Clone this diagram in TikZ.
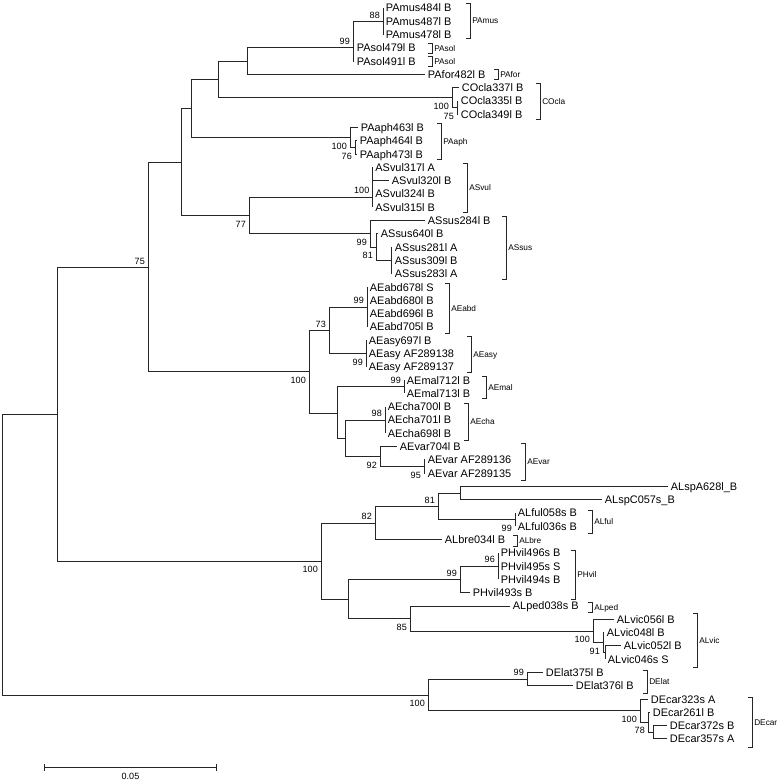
\documentclass[tikz,border=0pt]{standalone}
\usepackage{fontspec}
\setmainfont{Liberation Sans}
\usetikzlibrary{arrows.meta}

\begin{document}
\begin{tikzpicture}[x=0.75pt,y=-0.75pt,
  branch/.style={black!85,line width=0.75pt},
  leaf/.style={anchor=west,inner xsep=2pt,inner ysep=0pt,text height=5.9pt,text depth=0pt,font=\fontsize{8.2}{10}\selectfont},
  bsa/.style={anchor=south east,inner sep=2.2pt,font=\fontsize{6.8}{8}\selectfont},
  bsb/.style={anchor=north east,inner sep=2.2pt,yshift=-1.5pt,font=\fontsize{6.8}{8}\selectfont},
  clade/.style={black!85,line width=0.75pt},
  cladelab/.style={anchor=west,inner sep=1.5pt,text height=4.5pt,text depth=0pt,font=\fontsize{6.2}{7}\selectfont}]
  \useasboundingbox (0,0) rectangle (780,782);
  \foreach \lx/\ltext [count=\i from 0] in {383/PAmus484l B,383/PAmus487l B,383/PAmus478l B,354/PAsol479l B,354/PAsol491l B,
      425/PAfor482l B,459/COcla337l B,458/COcla335l B,458/COcla349l B,358/PAaph463l B,357/PAaph464l B,357/PAaph473l B,
      372.5/ASvul317l A,389/ASvul320l B,372.5/ASvul324l B,372.5/ASvul315l B,425/ASsus284l B,378/ASsus640l B,
      392/ASsus281l A,392/ASsus309l B,392/ASsus283l A,367/AEabd678l S,367/AEabd680l B,367/AEabd696l B,367/AEabd705l B,
      366/AEasy697l B,366/AEasy AF289138,366/AEasy AF289137,404/AEmal712l B,404/AEmal713l B,385/AEcha700l B,
      385/AEcha701l B,385/AEcha698l B,397/AEvar704l B,425/AEvar AF289136,425/AEvar AF289135,668/ALspA628l\_B,
      602/ALspC057s\_B,515/ALful058s B,515/ALful036s B,442/ALbre034l B,498/PHvil496s B,498/PHvil495s S,
      498/PHvil494s B,470/PHvil493s B,510/ALped038s B,614/ALvic056l B,604/ALvic048l B,621/ALvic052l B,
      605/ALvic046s S,543/DElat375l B,573/DElat376l B,648/DEcar323s A,650/DEcar261l B,667/DEcar372s B,667/DEcar357s A}
  {
    \coordinate (e\i) at (\lx,{8+13.29*\i});
    \node[leaf] (t\i) at (e\i) {\ltext};
  }
  \coordinate (nRoot) at (2,554.6);
  \coordinate (nIN) at (57,414.2);
  \coordinate (nPAASAE) at (148,267.3);
  \coordinate (nPAAS) at (181,162.2);
  \coordinate (nPA3) at (191,108.5);
  \coordinate (nPA2) at (218,79.5);
  \coordinate (nPA1) at (247,61.2);
  \coordinate (nPAsol) at (353,47.9);
  \coordinate (nPAmus) at (383,21.3);
  \coordinate (nCOcla) at (452,97.7);
  \coordinate (nCOcla2) at (457,107.7);
  \coordinate (nPAaph) at (350,137.6);
  \coordinate (nPAaph2) at (355,147.6);
  \coordinate (nAS) at (249,215.8);
  \coordinate (nASvul) at (372.5,197);
  \coordinate (nASsus) at (370,233.9);
  \coordinate (nASsus2) at (376,247.2);
  \coordinate (nASsus3) at (391,260.5);
  \coordinate (nAE) at (309,371.7);
  \coordinate (nAEab) at (329,330.3);
  \coordinate (nAEabd) at (367,307.1);
  \coordinate (nAEasy) at (366,353.5);
  \coordinate (nAEmc) at (337,413.2);
  \coordinate (nAEmal) at (404,386.8);
  \coordinate (nAEcv) at (345,438.3);
  \coordinate (nAEcha) at (385,420);
  \coordinate (nAEvar) at (380,456.6);
  \coordinate (nAEvar2) at (424,466.6);
  \coordinate (nALPH) at (321,561);
  \coordinate (nAL82) at (375,523);
  \coordinate (nAL81) at (438,506.4);
  \coordinate (nALsp) at (460,493.1);
  \coordinate (nALful) at (515,519.7);
  \coordinate (nPHAL) at (348,599);
  \coordinate (nPHvil) at (460,579.5);
  \coordinate (nPHvil2) at (498,566.2);
  \coordinate (nALvp) at (410,618.5);
  \coordinate (nALvic) at (593,631);
  \coordinate (nALvic2) at (603,642.6);
  \coordinate (nALvic3) at (605,652.6);
  \coordinate (nDE) at (428,695);
  \coordinate (nDElat) at (527,679.2);
  \coordinate (nDEcar) at (640,710.7);
  \coordinate (nDEcar2) at (648,722.4);
  \coordinate (nDEcar3) at (653,732.4);
  \foreach \p/\c in {nRoot/nIN,nRoot/nDE,nIN/nPAASAE,nIN/nALPH,nPAASAE/nPAAS,nPAASAE/nAE,nPAAS/nPA3,nPAAS/nAS,
      nPA3/nPA2,nPA3/nPAaph,nPA2/nPA1,nPA2/nCOcla,nPA1/nPAsol,nPA1/e5,nPAsol/nPAmus,nPAsol/e3,nPAsol/e4,
      nPAmus/e0,nPAmus/e1,nPAmus/e2,nCOcla/e6,nCOcla/nCOcla2,nCOcla2/e7,nCOcla2/e8,nPAaph/e9,nPAaph/nPAaph2,
      nPAaph2/e10,nPAaph2/e11,nAS/nASvul,nAS/nASsus,nASvul/e12,nASvul/e13,nASvul/e14,nASvul/e15,nASsus/e16,
      nASsus/nASsus2,nASsus2/e17,nASsus2/nASsus3,nASsus3/e18,nASsus3/e19,nASsus3/e20,nAE/nAEab,nAE/nAEmc,
      nAEab/nAEabd,nAEab/nAEasy,nAEabd/e21,nAEabd/e22,nAEabd/e23,nAEabd/e24,nAEasy/e25,nAEasy/e26,nAEasy/e27,
      nAEmc/nAEmal,nAEmc/nAEcv,nAEmal/e28,nAEmal/e29,nAEcv/nAEcha,nAEcv/nAEvar,nAEcha/e30,nAEcha/e31,nAEcha/e32,
      nAEvar/e33,nAEvar/nAEvar2,nAEvar2/e34,nAEvar2/e35,nALPH/nAL82,nALPH/nPHAL,nAL82/nAL81,nAL82/e40,
      nAL81/nALsp,nAL81/nALful,nALsp/e36,nALsp/e37,nALful/e38,nALful/e39,nPHAL/nPHvil,nPHAL/nALvp,
      nPHvil/nPHvil2,nPHvil/e44,nPHvil2/e41,nPHvil2/e42,nPHvil2/e43,nALvp/e45,nALvp/nALvic,nALvic/e46,
      nALvic/nALvic2,nALvic2/e47,nALvic2/nALvic3,nALvic3/e48,nALvic3/e49,nDE/nDElat,nDE/nDEcar,nDElat/e50,
      nDElat/e51,nDEcar/e52,nDEcar/nDEcar2,nDEcar2/e53,nDEcar2/nDEcar3,nDEcar3/e54,nDEcar3/e55}
    \draw[branch] (\p) |- (\c);
  \foreach \nd/\bv [count=\k] in {nPAmus/88,nPAsol/99,nASvul/100,nAEabd/99,nAEab/73,nAEmal/99,nAEcha/98,
      nAL81/81,nAL82/82,nPHvil2/96,nPHvil/99,nDElat/99,nPAASAE/75}
    \node[bsa] (ba\k) at (\nd) {\bv};
  \foreach \nd/\bv [count=\k] in {nCOcla/100,nCOcla2/75,nPAaph/100,nPAaph2/76,nAS/77,nASsus/99,nASsus2/81,
      nAEasy/99,nAE/100,nAEvar/92,nAEvar2/95,nALful/99,nALPH/100,nALvp/85,nALvic/100,nALvic2/91,nDE/100,
      nDEcar/100,nDEcar2/78}
    \node[bsb] (bb\k) at (\nd) {\bv};
  \foreach \bx/\ya/\yb/\cname [count=\k] in {470/3/38/PAmus,432/43/53/PAsol,432/56/66/PAsol,498/69/79/PAfor,
      540/83/119/COcla,441/123/159/PAaph,467/163/212/ASvul,506/216/279/ASsus,449/283/333/AEabd,471/336/372/AEasy,
      486/376/398/AEmal,468/403/440/AEcha,525/443/480/AEvar,592/510/533/ALful,517/535/546/ALbre,575/550/599/PHvil,
      592/602/612/ALped,697/613/667/ALvic,647/670/693/DElat,752/697/747/DEcar}
  {
    \draw[clade] (\bx-4,\ya) -- (\bx,\ya) -- (\bx,\yb) -- (\bx-4,\yb);
    \node[cladelab] (g\k) at (\bx,{(\ya+\yb)/2}) {\cname};
  }
  \coordinate (sbL) at (44,767);
  \coordinate (sbR) at (217,767);
  \draw[branch,{Bar[width=5.25pt]}-{Bar[width=5.25pt]}] (sbL) -- (sbR);
  \node[inner sep=0pt,text height=4.8pt,text depth=0pt,font=\fontsize{6.8}{8}\selectfont] (sbtext) at (130.5,776) {0.05};
\end{tikzpicture}
\end{document}
